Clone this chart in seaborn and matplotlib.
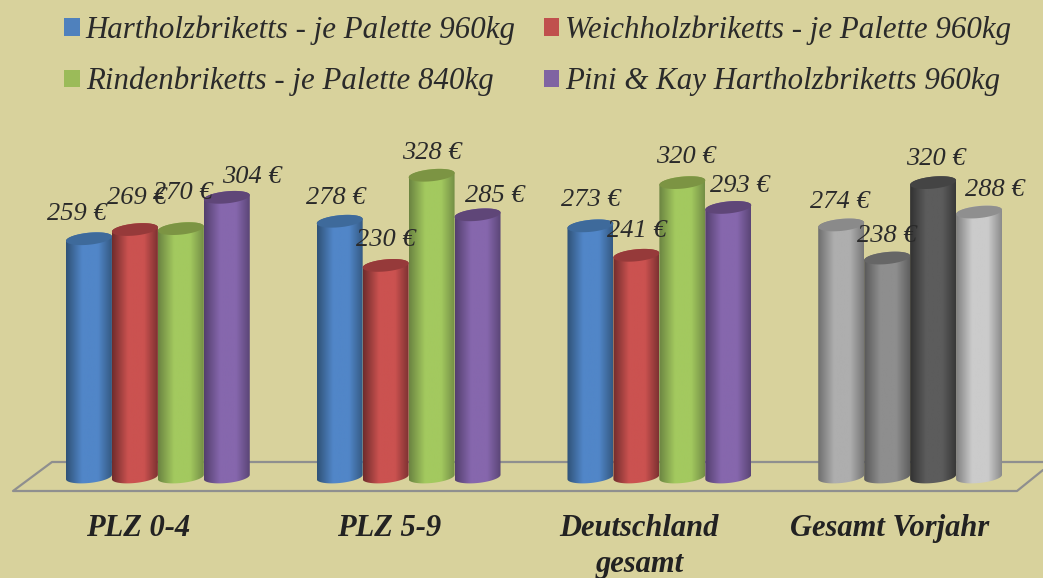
import matplotlib
matplotlib.use("Agg")
import matplotlib.pyplot as plt
import numpy as np
import pandas as pd
import seaborn as sns
from matplotlib.patches import Polygon
from matplotlib.transforms import ScaledTranslation

# data
regions = ["PLZ 0-4", "PLZ 5-9", "Deutschland\ngesamt", "Gesamt Vorjahr"]
products = ["Hartholzbriketts - je Palette 960kg", "Weichholzbriketts - je Palette 960kg",
            "Rindenbriketts - je Palette 840kg", "Pini & Kay Hartholzbriketts 960kg"]
hartholz = [259, 278, 273, 274]
weichholz = [269, 230, 241, 238]
rinden = [270, 328, 320, 320]
pini_kay = [304, 285, 293, 288]

# label nudges in pixels (x, y above bar top)
label_nudge = [[(-12, 25), (2, 32), (2, 36), (25, 20)],
               [(-4, 23), (0, 25), (0, 22), (17, 19)],
               [(0, 26), (0, 24), (4, 26), (12, 21)],
               [(-1, 23), (0, 22), (3, 24), (16, 22)]]

bg = "#D8D29C"
legend_colors = ["#4F81BD", "#C0504D", "#9BBB59", "#8064A2"]
# (edge, centre, cap) for each bar
colored = [("#2F5277", "#5186C8", "#3E6A9B"), ("#702C2C", "#CB5250", "#963A3A"),
           ("#6B8441", "#A3C95F", "#7C9443"), ("#533F6D", "#8667AD", "#5F4678")]
gray = [("#6E6E6E", "#AEAEAE", "#8A8A8A"), ("#585858", "#8E8E8E", "#666666"),
        ("#323232", "#5C5C5C", "#444444"), ("#808080", "#CBCBCB", "#8F8F8F")]

df = pd.DataFrame({
    "region": np.repeat(regions, 4),
    "product": products * 4,
    "price": np.array([hartholz, weichholz, rinden, pini_kay]).T.ravel(),
})

sns.set_style("white")
W, H = 1043, 578
fig = plt.figure(figsize=(W / 100, H / 100), dpi=100, facecolor=bg)
# y = 0 sits on pixel row 477, 0.92 px per euro, axes go a bit below for the round bar feet
ax = fig.add_axes([32.5 / W, 1 - 492 / H, 1003 / W, 362 / H], facecolor="none")
sns.barplot(data=df, x="region", y="price", hue="product", hue_order=products,
            palette=legend_colors, width=0.733, gap=0, saturation=1, errorbar=None, ax=ax)
ylims = (-15 / 0.92, 347 / 0.92)
ax.set_xlim(-0.5, 3.5)
ax.set_ylim(*ylims)
ax.set_xlabel("")
ax.set_ylabel("")
ax.set_yticks([])
sns.despine(ax=ax, left=True, bottom=True)
ax.tick_params(axis="x", length=0, pad=16)
for t in ax.get_xticklabels():
    t.set_fontfamily("Liberation Serif")
    t.set_fontstyle("italic")
    t.set_fontweight("bold")
    t.set_fontsize(22)
    t.set_color("#222222")
    t.set_linespacing(1.3)
    t.set_transform(t.get_transform() + ScaledTranslation(-20 / 100, 0, fig.dpi_scale_trans))

# floor outline behind the bars
fx = np.array([1043, 52, 13, 1017, 1043]) / W
fy = 1 - np.array([462, 462, 491, 491, 470]) / H
ax.plot(fx, fy, color="#8F8F8F", lw=1.6, transform=fig.transFigure, clip_on=False, zorder=1)

y_per_px = 1 / 0.92
t = np.linspace(0, np.pi, 40)


def shade(edge, centre):
    a = np.array(matplotlib.colors.to_rgb(edge))
    b = np.array(matplotlib.colors.to_rgb(centre))
    pos = np.linspace(0, 1, 100)
    k = np.interp(pos, [0, 0.35, 0.7, 1], [0, 1, 1, 0.15])[None, :, None]
    return a + (b - a) * k


for s, container in enumerate(ax.containers):
    for g, bar in enumerate(container):
        x0, w, top = bar.get_x(), bar.get_width(), bar.get_height()
        bar.set_visible(False)
        cx = x0 + w / 2
        z = 2 + s * 0.1
        edge, centre, cap = (gray if g == 3 else colored)[s]
        rx, ry = w / 2, 6 * y_per_px
        tilt = 2.2 * y_per_px
        # cylinder outline and cap, slightly tilted like the original
        arc_x = cx + rx * np.cos(t)
        arc_up = ry * np.sin(t) + tilt * np.cos(t)
        arc_dn = -ry * np.sin(t) + tilt * np.cos(t)
        body = Polygon(np.r_[np.c_[arc_x, top + arc_up], np.c_[arc_x[::-1], arc_dn[::-1]]],
                       closed=True, transform=ax.transData, fc="none", ec="none")
        ax.add_patch(body)
        img = ax.imshow(shade(edge, centre), extent=[x0, x0 + w, -20, top + 20], aspect="auto", zorder=z)
        img.set_clip_path(body)
        ax.add_patch(Polygon(np.r_[np.c_[arc_x, top + arc_up], np.c_[arc_x[::-1], top + arc_dn[::-1]]],
                             closed=True, fc=cap, ec="none", zorder=z + 0.01))
        dx, dy = label_nudge[g][s]
        ax.annotate(f"{int(top)} €", (cx, top), xytext=(dx * 0.72, dy * 0.72), textcoords="offset points",
                    ha="center", va="center", fontsize=19, fontfamily="Liberation Serif",
                    fontstyle="italic", color="#2A2A2A", zorder=5, annotation_clip=False)

ax.set_xlim(-0.5, 3.5)
ax.set_ylim(*ylims)

handles, labels = ax.get_legend_handles_labels()
order = [0, 2, 1, 3]
leg = ax.legend([handles[i] for i in order], [labels[i] for i in order], ncol=2, frameon=False,
                loc="upper left", bbox_to_anchor=(58 / W, 1 - 9 / H), bbox_transform=fig.transFigure,
                prop={"family": "Liberation Serif", "style": "italic", "size": 22.2},
                labelcolor="#2A2A2A", handlelength=0.5, handleheight=0.5, handletextpad=0.2,
                columnspacing=0.9, labelspacing=0.72, borderpad=0.2, borderaxespad=0)
for h in leg.get_patches():
    h.set_edgecolor("none")
    h.set_linewidth(0)

fig.savefig("out.png", dpi=100, facecolor=bg)
